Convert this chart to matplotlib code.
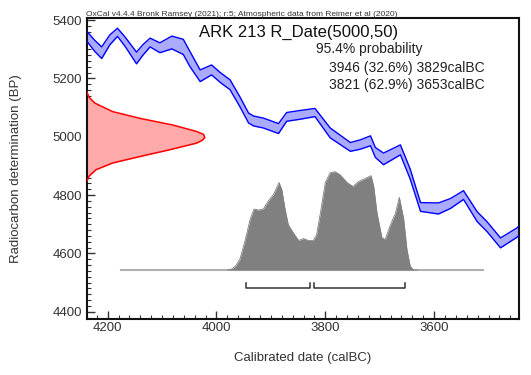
import matplotlib.pyplot as plt
from matplotlib.ticker import MultipleLocator
import numpy as np

plt.rcParams['font.family'] = ['Liberation Sans', 'DejaVu Sans']

# Calibration curve (IntCal20 section): cal BC, 14C age BP, 1-sigma
cal_year = [4238, 4224, 4211, 4196, 4182, 4168, 4147, 4135, 4122, 4104, 4082, 4061,
            4049, 4030, 4009, 3993, 3975, 3957, 3941, 3932, 3914, 3886, 3871, 3846,
            3819, 3791, 3754, 3736, 3717, 3708, 3693, 3662, 3644, 3625, 3592, 3570,
            3546, 3521, 3503, 3478, 3448, 3443]
cal_bp = [5344, 5312, 5288, 5332, 5358, 5326, 5270, 5298, 5323, 5305, 5323, 5308,
          5267, 5209, 5229, 5203, 5178, 5120, 5064, 5054, 5047, 5028, 5068, 5075,
          5083, 5013, 4965, 4973, 4986, 4946, 4924, 4955, 4872, 4759, 4754, 4771,
          4800, 4726, 4692, 4636, 4671, 4680]
cal_err = [17, 19, 20, 17, 14, 16, 20, 18, 15, 17, 22, 26,
           26, 20, 17, 17, 17, 17, 17, 17, 17, 17, 15, 15,
           14, 17, 15, 16, 17, 17, 20, 17, 17, 15, 19, 17,
           15, 17, 17, 17, 16, 16]

# Radiocarbon measurement R_Date(5000,50) - relative likelihood
meas_bp = [5155, 5135, 5115, 5086, 5063, 5040, 5018, 5008, 4997, 4988, 4978, 4955,
           4932, 4910, 4887, 4865, 4846]
meas_p = [0.0, 0.02, 0.07, 0.22, 0.45, 0.73, 0.93, 0.99, 1.0, 0.98, 0.93, 0.70,
          0.45, 0.22, 0.08, 0.02, 0.0]

# Calibrated probability distribution (relative)
post_year = [3980, 3972, 3965, 3957, 3947, 3938, 3931, 3923, 3914, 3905, 3895, 3885,
             3880, 3874, 3868, 3859, 3849, 3840, 3831, 3822, 3816, 3809, 3800, 3791,
             3782, 3773, 3760, 3749, 3739, 3727, 3716, 3711, 3705, 3696, 3690, 3681,
             3671, 3664, 3656, 3650, 3644, 3638, 3630]
post_p = [0.0, 0.01, 0.04, 0.11, 0.31, 0.52, 0.62, 0.61, 0.62, 0.70, 0.77, 0.89,
          0.82, 0.62, 0.46, 0.38, 0.30, 0.32, 0.30, 0.30, 0.36, 0.58, 0.89, 0.99,
          1.0, 0.97, 0.89, 0.85, 0.90, 0.93, 0.96, 0.85, 0.58, 0.33, 0.31, 0.45,
          0.58, 0.74, 0.52, 0.21, 0.04, 0.0, 0.0]
post_span = [4175, 3511]

# 95.4% ranges
range_from = [3946, 3821]
range_to = [3829, 3653]
range_pct = [32.6, 62.9]

fig = plt.figure(figsize=(5.31, 3.75), dpi=100)
ax = fig.add_axes([86.7 / 531, 1 - 319 / 375, (519.3 - 86.7) / 531, (319 - 18.3) / 375])
ax.set_xlim(4238.5, 3443.5)
ax.set_ylim(4375, 5406)

cy = np.array(cal_bp)
ce = np.array(cal_err)
ax.fill_between(cal_year, cy - ce, cy + ce, color='#aaaaff', lw=0, zorder=2)
ax.plot(cal_year, cy + ce, color='#0000ff', lw=1.0, zorder=3)
ax.plot(cal_year, cy - ce, color='#0000ff', lw=1.0, zorder=3)

# measurement on the y axis
x0 = ax.get_xlim()[0]
mx = x0 - np.array(meas_p) * 217
ax.fill_betweenx(meas_bp, x0, mx, color='#ffaaaa', lw=0, zorder=2)
ax.plot(mx, meas_bp, color='#ff0000', lw=1.1, zorder=3)

# calibrated distribution
base = 4543
py = base + np.array(post_p) * 337
ax.plot(post_span, [base, base], color='#b0b0b0', lw=1.5, zorder=2)
ax.fill_between(post_year, base, py, color='#808080', lw=0, zorder=3)
ax.plot(post_year, py, color='#808080', lw=0.6, zorder=3)

# range brackets
for a, b in zip(range_from, range_to):
    ax.plot([a, a, b, b], [4497, 4480, 4480, 4497], color='#333333', lw=1.1, zorder=3)

ax.xaxis.set_major_locator(MultipleLocator(200))
ax.xaxis.set_minor_locator(MultipleLocator(20))
ax.yaxis.set_major_locator(MultipleLocator(200))
ax.yaxis.set_minor_locator(MultipleLocator(20))
ax.tick_params(which='both', direction='in', top=False, right=False,
               labelsize=9.5, labelcolor='#333333', color='#333333')
ax.tick_params(which='major', length=6, width=1)
ax.tick_params(which='minor', length=3, width=0.8)
ax.tick_params(axis='x', pad=2)
ax.tick_params(axis='y', pad=3.5)
for s in ax.spines.values():
    s.set_linewidth(1.5)
    s.set_color('#111111')

ax.set_xlabel('Calibrated date (calBC)', fontsize=9.5, color='#333333', labelpad=13)
ax.set_ylabel('Radiocarbon determination (BP)', fontsize=9.5, color='#333333', labelpad=22)

fig.text(86 / 531, 1 - 16.5 / 375,
         'OxCal v4.4.4 Bronk Ramsey (2021); r:5; Atmospheric data from Reimer et al (2020)',
         fontsize=6.0, color='#333333', va='baseline')
fig.text(199.3 / 531, 1 - 36.7 / 375, 'ARK 213 R_Date(5000,50)', fontsize=12,
         color='#111111', va='baseline')
fig.text(316 / 531, 1 - 52.5 / 375, '95.4% probability', fontsize=10,
         color='#222222', va='baseline')
for i, (a, b, p) in enumerate(zip(range_from, range_to, range_pct)):
    fig.text(329.3 / 531, 1 - (71.7 + 17.5 * i) / 375, f'{a} ({p}%) {b}calBC',
             fontsize=10, color='#222222', va='baseline')

fig.savefig('out.png', dpi=100)
